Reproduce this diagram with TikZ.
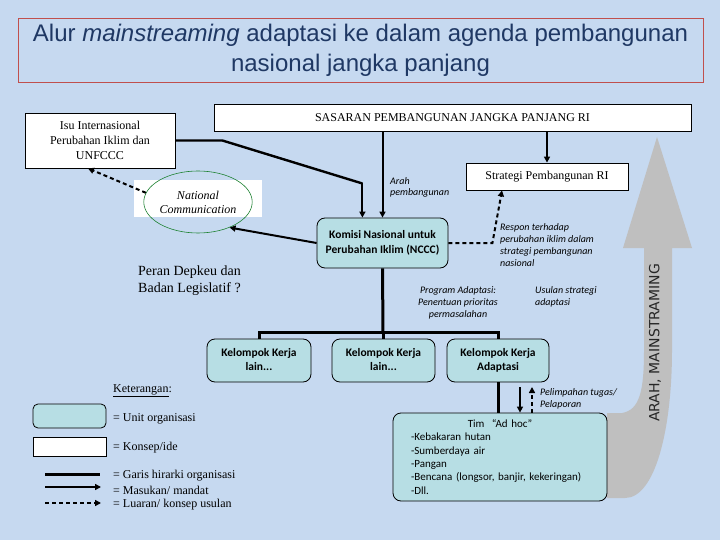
\documentclass[tikz,border=0pt]{standalone}
\usepackage{fontspec}
\setmainfont{Liberation Serif}
\newfontfamily\titlefont{Liberation Sans}
\newfontfamily\calfont{Carlito}
\newfontfamily\arahfont{DejaVu Sans}
\usetikzlibrary{arrows.meta,positioning,shapes.geometric}
\definecolor{bgBlue}{RGB}{198, 217, 240}
\definecolor{titleRed}{RGB}{192, 80, 77}
\definecolor{titleNavy}{RGB}{31, 56, 100}
\definecolor{unitTeal}{RGB}{183, 222, 228}
\definecolor{flowGray}{RGB}{191, 191, 191}
\definecolor{ringGreen}{RGB}{30, 130, 50}

\begin{document}
\begin{tikzpicture}[x=1pt,y=-1pt,
    konsep/.style={draw=black, fill=white, line width=0.8pt, inner sep=0pt, align=center,
      font=\fontsize{12}{15}\selectfont},
    unit/.style={draw=black, fill=unitTeal, rounded corners=8pt, line width=0.8pt, inner sep=0pt,
      align=center, font=\calfont\bfseries\fontsize{11.5}{14.5}\selectfont},
    note/.style={inner sep=0pt, align=left, font=\calfont\itshape\fontsize{10}{12}\selectfont},
    legtext/.style={inner sep=0pt, anchor=west, font=\fontsize{12}{14}\selectfont},
    treeline/.style={line width=3pt},
    arrowline/.style={line width=2pt, -{Triangle[length=6pt,width=6pt]}},
    dasharrow/.style={line width=2pt, dash pattern=on 4pt off 3pt, -{Triangle[length=6pt,width=6pt]}}]

  \useasboundingbox (0,0) rectangle (720,540);
  \fill[bgBlue] (0,0) rectangle (720,540);

  % Title
  \node[draw=titleRed, line width=0.8pt, minimum width=685pt, minimum height=64pt, inner sep=0pt,
    align=center, text=titleNavy, font=\titlefont\fontsize{24}{30}\selectfont] (title) at (360.5,50)
    {Alur \textit{mainstreaming} adaptasi ke dalam agenda pembangunan\\nasional jangka panjang};

  % Mainstreaming arrow
  \fill[flowGray] (607,413) -- (622,413) .. controls (640,410) and (644,390) .. (644,350)
    -- (644,248) -- (623,248) -- (657,137) -- (692,248) -- (672,248) -- (672,350)
    .. controls (672,430) and (655,498) .. (625,498) -- (607,498) -- cycle;
  \node[rotate=90, inner sep=0pt, text=black!85, font=\arahfont\fontsize{14}{16}\selectfont] (arahms)
    at (655,343) {ARAH, MAINSTRAMING};

  % Concepts
  \node[konsep, minimum width=477pt, minimum height=27pt] (sasaran) at (452.5,117.5)
    {SASARAN PEMBANGUNAN JANGKA PANJANG RI};
  \node[konsep, minimum width=150pt, minimum height=55pt] (isu) at (100,140.5)
    {Isu Internasional\\Perubahan Iklim dan\\UNFCCC};
  \node[konsep, minimum width=162pt, minimum height=27pt] (strategi) at (547,176.5)
    {Strategi Pembangunan RI};
  \node[fill=white, minimum width=128pt, minimum height=37pt, inner sep=0pt] (natbg) at (198,198.5) {};
  \node[draw=ringGreen, ellipse, line width=0.6pt, minimum width=90pt, minimum height=62pt, inner sep=0pt,
    align=center, font=\itshape\fontsize{12}{14}\selectfont] (natcom) at (198,202)
    {National\\Communication};

  % Units
  \node[unit, minimum width=131pt, minimum height=50pt] (nccc) at (382.5,243)
    {Komisi Nasional untuk\\Perubahan Iklim (NCCC)};
  \node[unit, minimum width=104pt, minimum height=43pt] (kk1) at (259,360.5)
    {Kelompok Kerja\\lain...\vphantom{p}};
  \node[unit, minimum width=103pt, minimum height=43pt] (kk2) at (383.5,360.5)
    {Kelompok Kerja\\lain...\vphantom{p}};
  \node[unit, minimum width=102pt, minimum height=43pt] (kkadapt) at (498,360.5)
    {Kelompok Kerja\\Adaptasi};
  \node[unit, minimum width=214pt, minimum height=88pt, text width=178pt, align=left,
    font=\calfont\fontsize{11}{13.3}\selectfont] (timadhoc) at (500,457)
    {\hfill Tim~~“Ad hoc”\hfill\mbox{}\\-Kebakaran hutan\\-Sumberdaya air\\-Pangan\\
     -Bencana (longsor, banjir, kekeringan)\\-Dll.};

  % Notes
  \node[note, anchor=west, font=\calfont\itshape\fontsize{10}{11}\selectfont] (arahlbl) at (390,187.5)
    {Arah\\pembangunan};
  \node[note, anchor=west] (responlbl) at (500,245)
    {Respon terhadap\\perubahan iklim dalam\\strategi pembangunan\\nasional};
  \node[note, align=center] (programlbl) at (458,303)
    {Program Adaptasi:\\Penentuan prioritas\\permasalahan};
  \node[note, anchor=west] (usulanlbl) at (535,297) {Usulan strategi\\adaptasi};
  \node[note, anchor=west] (limpahlbl) at (540,398.5) {Pelimpahan tugas/\\Pelaporan};
  \node[inner sep=0pt, anchor=west, align=left, font=\fontsize{14}{17}\selectfont] (peranlbl)
    at (138,280.5) {Peran Depkeu dan\\Badan Legislatif ?};

  % Connectors
  \draw[dasharrow] (natcom.170) -- ([xshift=-12pt]isu.south);
  \draw[arrowline] (nccc.west) -- (natcom.-39);
  \draw[line width=2.4pt] (isu.east) -- ++(47,0) -- ++(140,43) coordinate (bend);
  \draw[arrowline] (bend) -- (bend |- nccc.north);
  \draw[arrowline] (nccc.north |- sasaran.south) -- (nccc.north);
  \draw[arrowline] (strategi.north |- sasaran.south) -- (strategi.north);
  \draw[dasharrow] (nccc.east) -- ++(44,0) -- ([xshift=-45pt]strategi.south);

  % Hierarchy
  \coordinate (bar) at (383,332);
  \draw[treeline] (nccc.south) -- (bar);
  \draw[treeline] (kk1.north) |- (bar) -| (kkadapt.north);
  \draw[treeline] (kk2.north) -- (kk2.north |- bar);
  \draw[treeline] (kkadapt.south) -- (kkadapt.south |- timadhoc.north);
  \coordinate (dn) at (520,387);
  \coordinate (up) at (532,387);
  \draw[arrowline] (dn) -- (dn |- timadhoc.north);
  \draw[dasharrow] (up |- timadhoc.north) -- (up);

  % Legend
  \node[legtext] (ketlbl) at (113,391) {\underline{Keterangan}:};
  \node[draw=black, fill=unitTeal, rounded corners=5pt, line width=0.8pt, minimum width=73pt,
    minimum height=24pt, inner sep=0pt] (lgunit) at (69.5,416) {};
  \node[legtext] (lgunittxt) at (113,419) {= Unit organisasi};
  \node[konsep, minimum width=73pt, minimum height=19pt] (lgkonsep) at (69.5,446.5) {};
  \node[legtext] (lgkonseptxt) at (113,448) {= Konsep/ide};
  \node[legtext] (lgtreetxt) at (113,476) {= Garis hirarki organisasi};
  \node[legtext] (lgarrowtxt) at (113,490) {= Masukan/ mandat};
  \node[legtext] (lgdashtxt) at (113,504.5) {= Luaran/ konsep usulan};
  \draw[treeline] (45,474) -- (100,474);
  \draw[arrowline] (45,487) -- (101,487);
  \draw[dasharrow] (45,503) -- (101,503);
\end{tikzpicture}
\end{document}
